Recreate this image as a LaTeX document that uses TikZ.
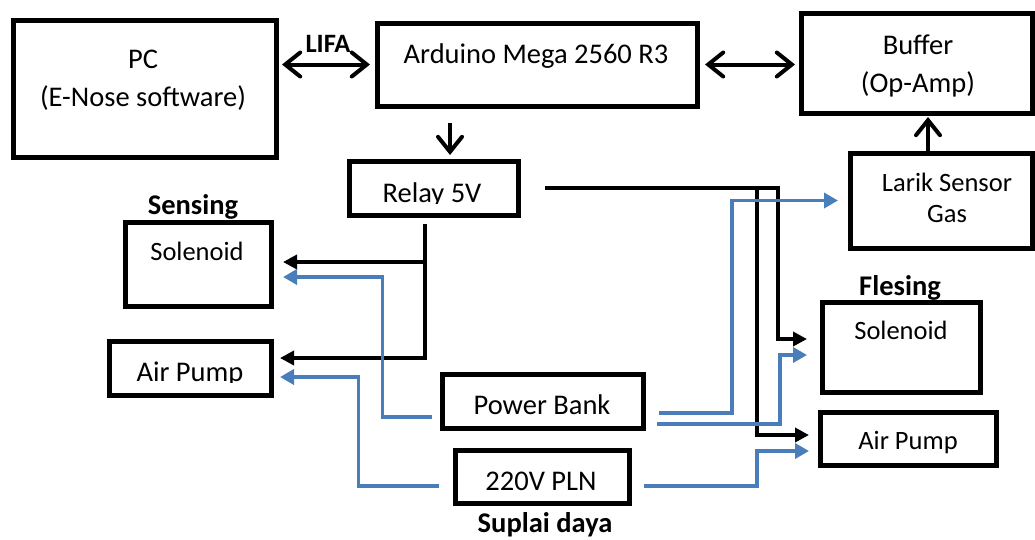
\documentclass[tikz,border=0pt]{standalone}
\usepackage{fontspec}
\setmainfont{Carlito}
\usetikzlibrary{arrows.meta}
\definecolor{birudaya}{RGB}{74,126,187}
\begin{document}
\begin{tikzpicture}[x=1pt, y=-1pt,
    kotak/.style={draw, line width=5pt, inner sep=0pt},
    teks/.style={font=\fontsize{28.5}{38}\selectfont, anchor=base, inner sep=0pt, align=center},
    tekskecil/.style={font=\fontsize{26.5}{31}\selectfont, anchor=base, inner sep=0pt, align=center},
    judul/.style={font=\bfseries\fontsize{28.5}{34}\selectfont, anchor=base, inner sep=0pt},
    dua/.style={line width=4pt, {Straight Barb[length=15pt,width=24pt,line cap=round]}-{Straight Barb[length=15pt,width=24pt,line cap=round]}},
    satu/.style={line width=4pt, -{Straight Barb[length=15pt,width=24pt,line cap=round]}},
    kendali/.style={line width=4pt, -{Triangle[length=14pt,width=14pt]}},
    daya/.style={line width=3.8pt, birudaya, -{Triangle[length=14pt,width=15pt]}}]
  \useasboundingbox (0,0) rectangle (1035,539);
  \node[kotak, minimum width=263pt, minimum height=137pt] (pc) at (144.5,88.5) {};
  \node[kotak, minimum width=320pt, minimum height=83pt] (ard) at (537,64.5) {};
  \node[kotak, minimum width=231pt, minimum height=100pt] (buf) at (916.5,63) {};
  \node[kotak, minimum width=169pt, minimum height=54pt] (relay) at (433.5,188) {};
  \node[kotak, minimum width=182pt, minimum height=95pt] (larik) at (941,200.5) {};
  \node[kotak, minimum width=146pt, minimum height=84pt] (solS) at (198,264) {};
  \node[kotak, minimum width=162pt, minimum height=54pt] (pompaS) at (190,368) {};
  \node[kotak, minimum width=201pt, minimum height=54pt] (bank) at (542.5,401) {};
  \node[kotak, minimum width=174pt, minimum height=53pt] (pln) at (542,476.5) {};
  \node[kotak, minimum width=158pt, minimum height=90pt] (solF) at (901,347) {};
  \node[kotak, minimum width=176pt, minimum height=53pt] (pompaF) at (908,438.5) {};
  \node[teks] (pc-t) at (143,106) {PC\\(E-Nose software)};
  \node[judul, font=\bfseries\fontsize{26.5}{32}\selectfont] (lifa) at (328,52) {LIFA};
  \node[teks] (ard-t) at (536,63) {Arduino Mega 2560 R3};
  \node[teks] (buf-t) at (918,92) {Buffer\\(Op-Amp)};
  \begin{scope}
    \clip (349,150) rectangle (518,203.5);
    \node[teks] (relay-t) at (432,202) {Relay 5V};
  \end{scope}
  \node[tekskecil] (larik-t) at (947,222) {Larik Sensor\\Gas};
  \node[judul] (sensing) at (193,214) {Sensing};
  \node[tekskecil] (solS-t) at (197,260) {Solenoid};
  \begin{scope}
    \clip (109,340) rectangle (271,382.5);
    \node[teks] (pompaS-t) at (190,381) {Air Pump};
  \end{scope}
  \node[teks] (bank-t) at (542,414) {Power Bank};
  \node[teks] (pln-t) at (541,490) {220V PLN};
  \node[judul] (suplai) at (545,532) {Suplai daya};
  \node[judul] (flesing) at (900,295) {Flesing};
  \node[tekskecil] (solF-t) at (901,339) {Solenoid};
  \node[tekskecil] (pompaF-t) at (908,449) {Air Pump};
  \draw[dua, shorten <=3.5pt, shorten >=4.5pt] (pc.east |- ard.west) -- (ard.west);
  \draw[dua, shorten <=5.5pt, shorten >=3.5pt] (ard.east) -- (ard.east -| buf.west);
  \draw[satu, shorten <=14.5pt, shorten >=3.5pt] ([xshift=-87pt]ard.south) -- ([xshift=-87pt]ard.south |- relay.north);
  \draw[satu, shorten >=1.5pt] ([xshift=-13pt]larik.north) -- ([xshift=-13pt]larik.north |- buf.south);
  \draw[kendali, shorten <=6.5pt, shorten >=9.5pt] ([xshift=-8.5pt]relay.south) |- ([yshift=2pt]solS.east);
  \draw[kendali, shorten <=6.5pt, shorten >=6.5pt] ([xshift=-8.5pt]relay.south) |- ([yshift=10pt]pompaS.east);
  \draw[kendali, shorten <=24.5pt, shorten >=12.5pt] (relay.east) -- ++(257.5,0) |- ([yshift=8pt]solF.west);
  \draw[kendali, shorten <=24.5pt, shorten >=8.5pt] (relay.east) -- ++(236.5,0) |- ([yshift=3.5pt]pompaF.west);
  \draw[daya, shorten <=7.5pt, shorten >=9.5pt] ([yshift=-16pt]bank.west) -- ++(-57,0) |- ([yshift=-13pt]solS.east);
  \draw[daya, shorten <=13.5pt, shorten >=6.5pt] ([yshift=-9.5pt]pln.west) -- ++(-94,0) |- ([yshift=-9pt]pompaS.east);
  \draw[daya, shorten <=13.5pt, shorten >=9.5pt] ([yshift=-12pt]bank.east) -- ++(86.5,0) |- (larik.west);
  \draw[daya, shorten <=11.5pt, shorten >=12.5pt] ([yshift=-23pt]bank.east) -- ++(134.5,0) |- ([yshift=-8pt]solF.west);
  \draw[daya, shorten <=12.5pt, shorten >=8.5pt] ([yshift=-9.5pt]pln.east) -- ++(125.5,0) |- ([yshift=-12.5pt]pompaF.west);
\end{tikzpicture}
\end{document}
